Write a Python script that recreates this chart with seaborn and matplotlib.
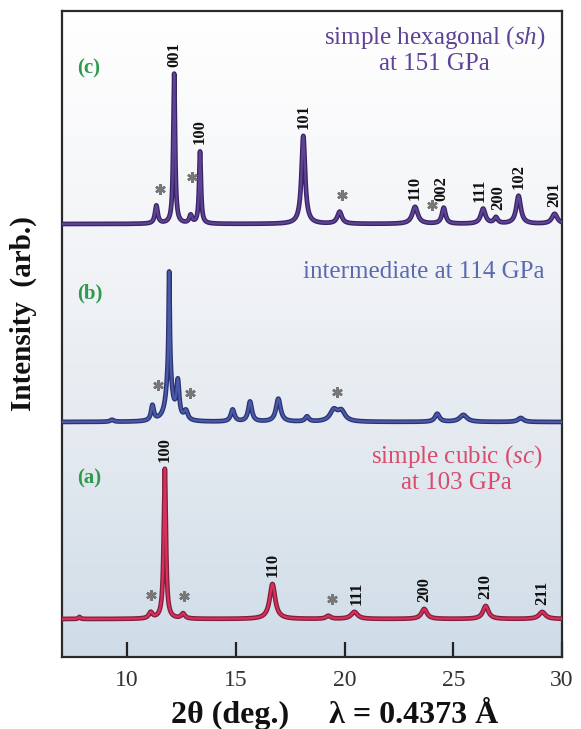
import numpy as np
import pandas as pd
import matplotlib
matplotlib.use("Agg")
import matplotlib.pyplot as plt
import seaborn as sns
from matplotlib import patheffects as pe
from matplotlib.colors import LinearSegmentedColormap
from matplotlib.transforms import ScaledTranslation

# ---------------- data ----------------
# (a) simple cubic at 103 GPa : peak positions (2theta), heights, widths
a_pos    = [7.8, 11.08, 11.73, 12.57, 16.68, 19.25, 20.45, 23.66, 26.49, 29.09]
a_height = [2, 6, 150, 5, 35, 3, 7, 10, 13, 7]
a_fwhm   = [0.1, 0.2, 0.12, 0.2, 0.3, 0.25, 0.35, 0.3, 0.3, 0.35]
a_hkl_pos = [11.73, 16.68, 20.55, 23.66, 26.49, 29.09]
a_hkl     = ["100", "110", "111", "200", "210", "211"]
a_star    = [11.08, 12.6, 19.4]

# (b) intermediate at 114 GPa
b_pos    = [9.3, 11.16, 11.93, 11.93, 12.33, 12.7, 14.85, 15.65, 16.95, 18.27, 19.5, 19.85, 24.26, 25.46, 28.1]
b_height = [2, 15, 97, 52, 36, 9, 12, 20, 23, 5, 11, 10, 8, 7, 4]
b_fwhm   = [0.2, 0.15, 0.06, 0.3, 0.15, 0.2, 0.2, 0.2, 0.25, 0.2, 0.4, 0.4, 0.25, 0.4, 0.3]
b_star   = [11.42, 12.91, 19.67]

# (c) simple hexagonal at 151 GPa
c_pos    = [11.34, 12.16, 12.92, 13.35, 18.1, 19.77, 23.24, 24.56, 26.37, 26.96, 28.0, 29.66]
c_height = [18, 150, 8, 72, 88, 12, 17, 16, 15, 6, 28, 10]
c_fwhm   = [0.15, 0.1, 0.15, 0.1, 0.2, 0.25, 0.3, 0.2, 0.25, 0.2, 0.25, 0.3]
c_hkl_pos = [12.16, 13.35, 18.1, 23.24, 24.45, 26.2, 27.07, 28.0, 29.66]
c_hkl     = ["001", "100", "101", "110", "002", "111", "200", "102", "201"]
c_star    = [11.5, 13.0, 19.9, 24.0]

offsets = {"a": 38, "b": 235, "c": 433}
x_ticks = [10, 15, 20, 25, 30]

# ---------------- style ----------------
sns.set_style("white")
plt.rcParams["font.family"] = ["Liberation Serif", "DejaVu Serif"]
plt.rcParams["mathtext.fontset"] = "custom"
plt.rcParams["mathtext.rm"] = "Liberation Serif"
plt.rcParams["mathtext.it"] = "Liberation Serif:italic"
plt.rcParams["mathtext.bf"] = "Liberation Serif:bold"

fig = plt.figure(figsize=(5.81, 7.29), dpi=100)
ax = fig.add_axes([62 / 581, 72 / 729, 500 / 581, 646 / 729])

x = np.linspace(7, 30, 2301)


def profile(pos, height, fwhm):
    y = np.zeros_like(x)
    for p, h, w in zip(pos, height, fwhm):
        y += h / (1 + ((x - p) / (w / 2)) ** 2)
    return y


traces = {
    "a": profile(a_pos, a_height, a_fwhm) + offsets["a"],
    "b": profile(b_pos, b_height, b_fwhm) + offsets["b"],
    "c": profile(c_pos, c_height, c_fwhm) + offsets["c"],
}
colors = {"a": "#d8305a", "b": "#4a5aa8", "c": "#5e4296"}
dark = {"a": "#7e1f3c", "b": "#2a3372", "c": "#382463"}

# background gradient
grad = np.linspace(0, 1, 256).reshape(-1, 1)
cmap = LinearSegmentedColormap.from_list("bg", ["#cfdce8", "#e4eaf0", "#f4f5f8", "#ffffff"])
ax.imshow(grad, extent=[7, 30, 0, 646], origin="lower", aspect="auto", cmap=cmap, zorder=0)

for key in ["a", "b", "c"]:
    df = pd.DataFrame({"two_theta": x, "intensity": traces[key]})
    sns.lineplot(data=df, x="two_theta", y="intensity", ax=ax, color=colors[key],
                 lw=1.6, zorder=3, sort=False)
    ax.lines[-1].set_path_effects([pe.Stroke(linewidth=3.4, foreground=dark[key]), pe.Normal()])


def local_top(key, xp, half=0.15):
    m = (x > xp - half) & (x < xp + half)
    return traces[key][m].max()


for key, pos_l, lab_l in [("a", a_hkl_pos, a_hkl), ("c", c_hkl_pos, c_hkl)]:
    for xp, lab in zip(pos_l, lab_l):
        ax.annotate(lab, xy=(xp, local_top(key, xp)), xytext=(0, 5), textcoords="offset points",
                    rotation=90, ha="center", va="bottom", fontsize=12, fontweight="bold",
                    color="#111111", zorder=5)

star_tr = ax.transData + ScaledTranslation(0, 12 / 72, fig.dpi_scale_trans)
for key, stars in [("a", a_star), ("b", b_star), ("c", c_star)]:
    for xp in stars:
        ax.plot([xp], [local_top(key, xp, 0.3)], marker=(6, 2, 0), ms=7.5, mew=1.8,
                color="#777777", transform=star_tr, zorder=5)

# panel letters
green = "#2f9a4c"
ax.text(8.22, 589, "(c)", color=green, fontsize=15, fontweight="bold", ha="center", va="center")
ax.text(8.29, 364, "(b)", color=green, fontsize=15, fontweight="bold", ha="center", va="center")
ax.text(8.24, 179, "(a)", color=green, fontsize=15, fontweight="bold", ha="center", va="center")

ax.text(24.15, 607, "simple hexagonal ($\\mathit{sh}$)\nat 151 GPa", color="#5e4296", fontsize=18,
        ha="center", va="center", linespacing=1.12)
ax.text(23.62, 385, "intermediate at 114 GPa", color="#5a6aae", fontsize=18, ha="center", va="center")
ax.text(25.16, 188, "simple cubic ($\\mathit{sc}$)\nat 103 GPa", color="#d84c6c", fontsize=18,
        ha="center", va="center", linespacing=1.12)

ax.set_xlim(7, 30)
ax.set_ylim(0, 646)
ax.set_xticks(x_ticks)
ax.set_yticks([])
ax.tick_params(axis="x", direction="in", length=11, width=1.6, color="#222222",
               labelsize=17, labelcolor="#333333", pad=9, bottom=True, top=False)
for s in ax.spines.values():
    s.set_linewidth(1.6)
    s.set_color("#2a2a2a")
    s.set_visible(True)

ax.set_xlabel("2θ (deg.)     λ = 0.4373 Å", fontsize=23, fontweight="bold", color="#111111")
ax.xaxis.set_label_coords(0.546, -0.062)
ax.set_ylabel("Intensity  (arb.)", fontsize=21, fontweight="bold", color="#111111")
ax.yaxis.set_label_coords(-0.05, 0.532)

fig.savefig("out.png", dpi=100)
